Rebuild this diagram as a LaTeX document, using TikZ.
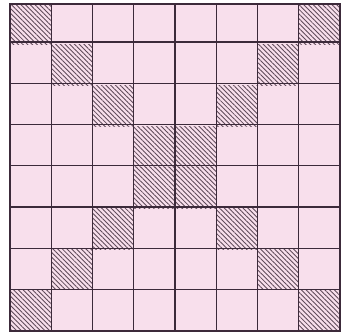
\documentclass[tikz,border=0pt]{standalone}
\usetikzlibrary{patterns.meta}
\definecolor{cellpink}{RGB}{248,223,236}
\definecolor{gridink}{RGB}{60,42,58}
\definecolor{hatchink}{RGB}{95,75,90}

\begin{document}
\begin{tikzpicture}[
  x=1cm, y=0.99cm,
  board/.style={fill=cellpink},
  hatched/.style={pattern={Lines[angle=-45, distance=2.3pt, line width=0.6pt]}, pattern color=hatchink},
  gridline/.style={draw=gridink, line width=0.9pt},
  rim/.style={draw=gridink, line width=1.3pt}
]
\useasboundingbox (-0.243,-0.05) rectangle (8.097,8.1);

% Pink board
\fill[board] (0,0) rectangle (8,8);

% Hatched cells on both diagonals
\foreach \i in {0,...,7} {
  \fill[hatched] (\i,\i) rectangle ++(1,1);
  \fill[hatched] (7-\i,\i) rectangle ++(1,1);
}

% Grid
\draw[gridline] (0,0) grid (8,8);
\draw[rim] (0,0) rectangle (8,8);
\end{tikzpicture}
\end{document}
